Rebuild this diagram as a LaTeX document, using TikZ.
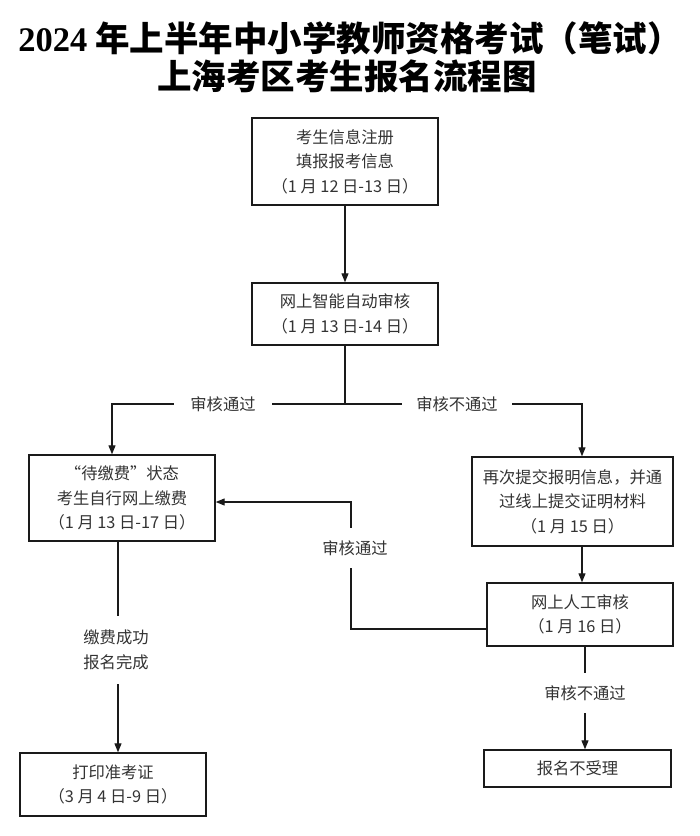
\documentclass[tikz,border=0pt]{standalone}
\usepackage{fontspec}
\usetikzlibrary{arrows.meta,calc}
\newfontfamily\cjk{Noto Sans CJK SC}
\newfontfamily\tnr{Liberation Serif}
\definecolor{txt}{HTML}{333333}
\definecolor{ln}{HTML}{1A1A1A}
\begin{document}
\begin{tikzpicture}[x=1pt,y=-1pt,
  box/.style={draw=ln,line width=1.4pt,rectangle,align=center,inner sep=0pt,
    font=\cjk\fontsize{16.3}{24.5}\selectfont,text=txt},
  conn/.style={draw=ln,line width=1.2pt},
  arr/.style={conn,-{Triangle[width=7pt,length=9pt]}},
  lbl/.style={fill=white,align=center,font=\cjk\fontsize{16.3}{24.5}\selectfont,text=txt},
  ttl/.style={font=\cjk\bfseries\fontsize{34.5}{40}\selectfont,text=black,inner sep=0pt}]
\useasboundingbox (0,0) rectangle (700,836);
\fill[white] (0,0) rectangle (700,836);
% title
\node[ttl] (t1) at (350,38) {{\tnr\bfseries 2024} 年上半年中小学教师资格考试（笔试）};
\node[ttl] (t2) at (347,76) {上海考区考生报名流程图};
% boxes
\node[box,minimum width=186pt,minimum height=87pt] (b1) at (345,161.5) {考生信息注册\\填报报考信息\\（1 月 12 日-13 日）};
\node[box,minimum width=186pt,minimum height=62pt] (b2) at (345,314) {网上智能自动审核\\（1 月 13 日-14 日）};
\node[box,minimum width=186pt,minimum height=86pt] (b3) at (122,498) {“待缴费”状态\\考生自行网上缴费\\（1 月 13 日-17 日）};
\node[box,minimum width=201pt,minimum height=89pt] (b4) at (572.5,501.5) {再次提交报明信息，并通\\过线上提交证明材料\\（1 月 15 日）};
\node[box,minimum width=186pt,minimum height=63pt] (b5) at (580,614.5) {网上人工审核\\（1 月 16 日）};
\node[box,minimum width=186pt,minimum height=63pt] (b6) at (113,784.5) {打印准考证\\（3 月 4 日-9 日）};
\node[box,minimum width=187pt,minimum height=37pt] (b7) at (577.5,768.5) {报名不受理};
% helper coordinates
\coordinate (split) at (345,404);
\coordinate (lt) at (112,404);
\coordinate (rt) at (582,404);
\coordinate (fx) at (582,0);
\coordinate (gx) at (585,0);
\coordinate (hx) at (118,0);
\coordinate (fb1) at (351,629);
\coordinate (fb2) at (351,502);
% connectors
\draw[arr] (b1.south) -- (b2.north);
\draw[conn] (b2.south) -- (split);
\draw[arr] (split) -- (lt) -- (lt |- b3.north);
\draw[arr] (split) -- (rt) -- (rt |- b4.north);
\draw[arr] (b4.south -| fx) -- (b5.north -| fx);
\draw[arr] (b5.south -| gx) -- (b7.north -| gx);
\draw[arr] (b3.south -| hx) -- (b6.north -| hx);
\draw[arr] (b5.west |- fb1) -- (fb1) -- (fb2) -- (b3.east |- fb2);
% labels
\node[lbl,inner xsep=16pt,inner ysep=2pt] (l1) at (223,404) {审核通过};
\node[lbl,inner xsep=14pt,inner ysep=2pt] (l2) at (457,404) {审核不通过};
\node[lbl,inner xsep=2pt,inner ysep=12pt] (l3) at (355,548) {审核通过};
\node[lbl,inner xsep=2pt,inner ysep=14pt] (l4) at (116,650) {缴费成功\\报名完成};
\node[lbl,inner xsep=2pt,inner ysep=12pt] (l5) at (585,693) {审核不通过};
\end{tikzpicture}
\end{document}
